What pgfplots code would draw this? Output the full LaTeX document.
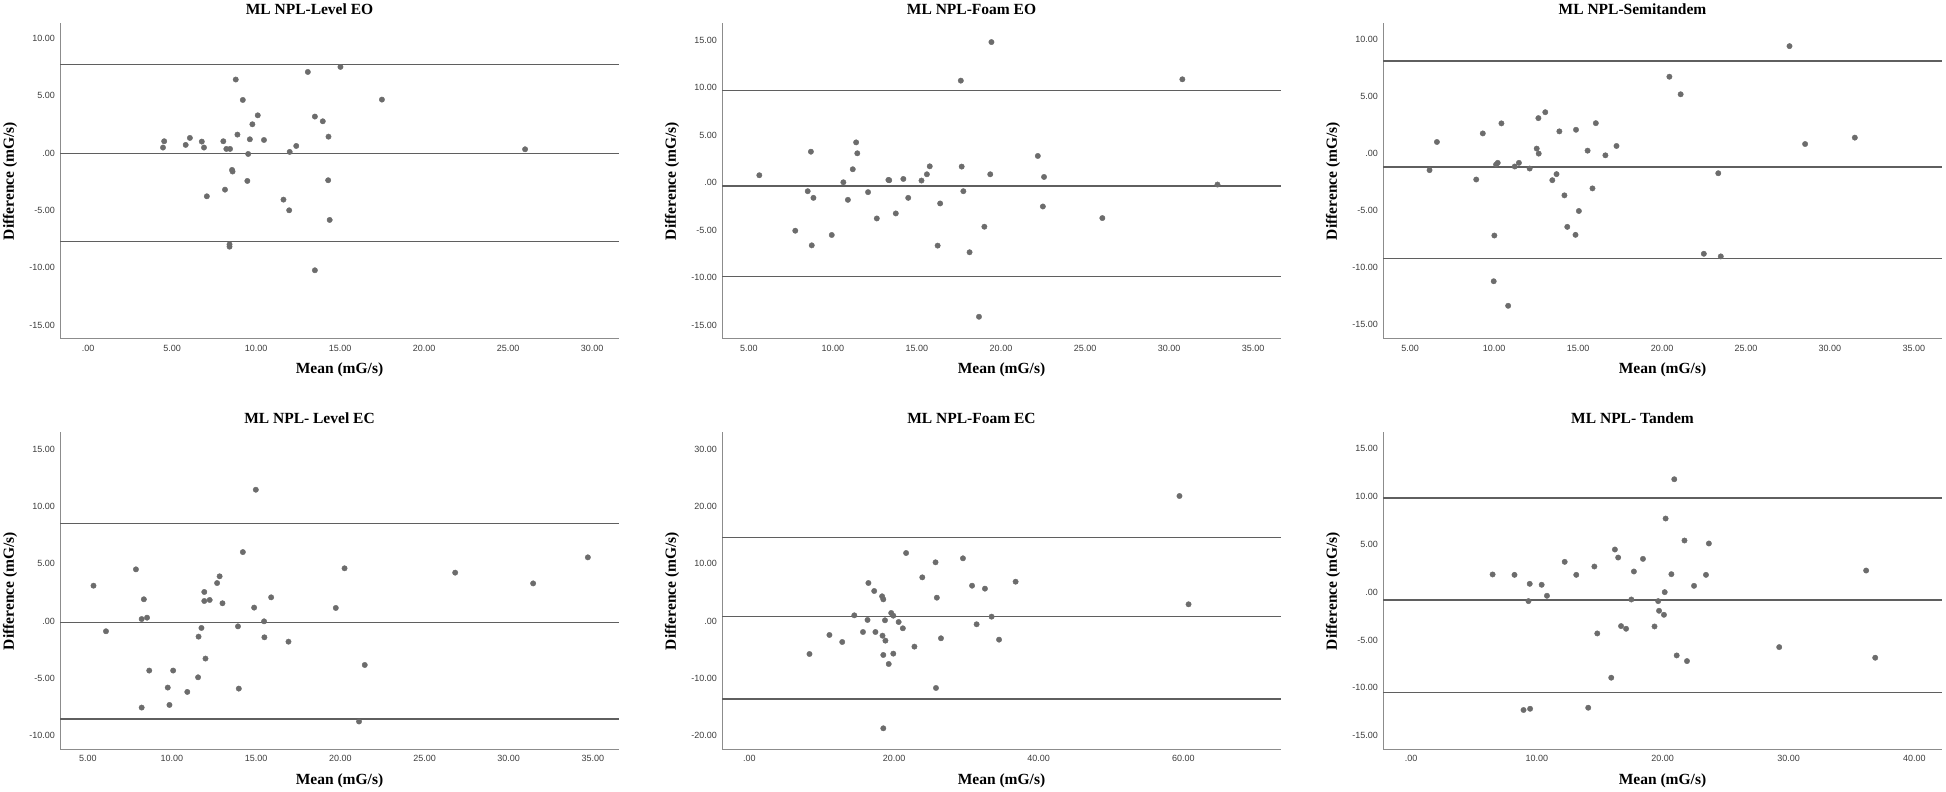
\documentclass[border=0pt]{standalone}
\usepackage{pgfplots}
\pgfplotsset{compat=1.18}
\usepackage{fontspec}
\setmainfont{Liberation Serif}
\newfontfamily\tickfont{Liberation Sans}
\definecolor{ptgray}{RGB}{108,108,108}
\definecolor{lngray}{RGB}{95,95,95}
\definecolor{axgray}{RGB}{140,140,140}
\definecolor{tkgray}{RGB}{60,60,60}
\newcommand\labfont{\fontsize{15.5}{18}\selectfont\bfseries}
\pgfplotsset{
  ba/.style={
    scale only axis, width=559pt, height=316pt,
    axis x line*=bottom, axis y line*=left,
    axis line style={-, draw=axgray, line width=1pt},
    major tick length=0pt, tick style={draw=none},
    ticklabel style={font=\tickfont\fontsize{9}{10}\selectfont, text=tkgray},
    yticklabel style={inner sep=0pt, anchor=east, xshift=-5pt},
    xticklabel style={inner sep=0pt, anchor=north, yshift=-6pt},
    title style={font=\labfont, at={(axis description cs:0.4463,1.0443)}, anchor=center, yshift=-6pt},
    xlabel style={font=\labfont, at={(axis description cs:0.5,-0.0981)}, anchor=center},
    ylabel style={font=\labfont, at={(axis description cs:-0.0894,0.5)}, anchor=center},
    xlabel={Mean (mG/s)}, ylabel={Difference (mG/s)},
    clip=false,
  },
  pts/.style={only marks, mark=*, mark size=2.7pt, mark options={fill=ptgray, draw=ptgray}},
  lns/.style={lngray, line width=1.4pt, no marks},
}
\begin{document}
\begin{tikzpicture}
\path[use as bounding box] (0,0) rectangle (1946pt,792pt);

% Panel 1
\begin{axis}[ba, at={(60pt,453pt)}, anchor=south west,
  title={ML NPL-Level EO},
  xmin=-1.67, xmax=31.6, ymin=-16.22, ymax=11.33,
  xtick={0,5,10,15,20,25,30}, xticklabels={.00,5.00,10.00,15.00,20.00,25.00,30.00},
  ytick={-15,-10,-5,0,5,10}, yticklabels={-15.00,-10.00,-5.00,.00,5.00,10.00}]
\addplot[lns] coordinates {(-1.67,7.72) (31.6,7.72)};
\addplot[lns] coordinates {(-1.67,-0.04) (31.6,-0.04)};
\addplot[lns] coordinates {(-1.67,-7.74) (31.6,-7.74)};
\addplot[pts] coordinates {(4.46,0.47) (4.53,1.02) (5.81,0.70) (6.06,1.31) (6.77,0.99) (6.90,0.47) (7.07,-3.78) (8.05,1.02) (8.15,-3.20) (8.23,0.35) (8.45,0.35) (8.42,-7.97) (8.42,-8.17) (8.57,-1.48) (8.60,-1.62) (8.79,6.40) (8.89,1.60) (9.21,4.62) (9.48,-2.44) (9.53,-0.09) (9.63,1.19) (9.78,2.50) (10.10,3.28) (10.47,1.13) (11.63,-4.07) (11.97,-5.00) (12.00,0.09) (12.39,0.61) (13.08,7.06) (13.50,3.17) (13.50,-10.23) (13.97,2.76) (14.29,-2.38) (14.31,1.42) (14.38,-5.84) (15.02,7.50) (17.49,4.65) (26.01,0.32)};
\end{axis}

% Panel 2
\begin{axis}[ba, at={(722pt,453pt)}, anchor=south west,
  title={ML NPL-Foam EO},
  xmin=3.40, xmax=36.66, ymin=-16.47, ymax=16.8,
  xtick={5,10,15,20,25,30,35}, xticklabels={5.00,10.00,15.00,20.00,25.00,30.00,35.00},
  ytick={-15,-10,-5,0,5,10,15}, yticklabels={-15.00,-10.00,-5.00,.00,5.00,10.00,15.00}]
\addplot[lns] coordinates {(3.40,9.72) (36.66,9.72)};
\addplot[lns] coordinates {(3.40,-0.38) (36.66,-0.38)};
\addplot[lns] coordinates {(3.40,-9.90) (36.66,-9.90)};
\addplot[pts] coordinates {(5.62,0.77) (7.76,-5.07) (8.50,-0.91) (8.69,3.25) (8.74,-6.61) (8.84,-1.61) (9.93,-5.52) (10.62,0.03) (10.89,-1.82) (11.18,1.40) (11.38,4.23) (11.45,3.08) (12.09,-1.01) (12.61,-3.78) (13.30,0.28) (13.35,0.24) (13.74,-3.25) (14.19,0.38) (14.48,-1.61) (15.27,0.21) (15.59,0.87) (15.76,1.71) (16.23,-6.64) (16.38,-2.20) (17.61,10.73) (17.66,1.68) (17.76,-0.91) (18.13,-7.34) (18.69,-14.13) (19.01,-4.65) (19.36,0.87) (19.43,14.79) (22.19,2.80) (22.49,-2.52) (22.56,0.59) (26.03,-3.74) (30.79,10.87) (32.88,-0.21)};
\end{axis}

% Panel 3
\begin{axis}[ba, at={(1383pt,453pt)}, anchor=south west,
  title={ML NPL-Semitandem},
  xmin=3.39, xmax=36.67, ymin=-16.25, ymax=11.45,
  xtick={5,10,15,20,25,30,35}, xticklabels={5.00,10.00,15.00,20.00,25.00,30.00,35.00},
  ytick={-15,-10,-5,0,5,10}, yticklabels={-15.00,-10.00,-5.00,.00,5.00,10.00}]
\addplot[lns] coordinates {(3.39,8.11) (36.67,8.11)};
\addplot[lns] coordinates {(3.39,-1.19) (36.67,-1.19)};
\addplot[lns] coordinates {(3.39,-9.19) (36.67,-9.19)};
\addplot[pts] coordinates {(6.16,-1.45) (6.60,1.02) (8.94,-2.27) (9.33,1.77) (10.02,-7.18) (9.98,-11.19) (10.12,-0.96) (10.22,-0.81) (10.44,2.65) (10.84,-13.34) (11.23,-1.13) (11.48,-0.81) (12.12,-1.31) (12.54,0.44) (12.64,3.11) (12.66,0.0) (13.05,3.63) (13.47,-2.33) (13.72,-1.80) (13.89,1.95) (14.19,-3.66) (14.36,-6.42) (14.85,-7.12) (14.88,2.09) (15.05,-5.03) (15.57,0.26) (15.86,-3.05) (16.06,2.67) (16.63,-0.15) (17.29,0.67) (20.44,6.74) (21.11,5.20) (22.49,-8.78) (23.35,-1.72) (23.50,-9.01) (27.59,9.42) (28.52,0.84) (31.48,1.40)};
\end{axis}

% Panel 4
\begin{axis}[ba, height=317pt, at={(60pt,42.5pt)}, anchor=south west,
  title={ML NPL- Level EC},
  xmin=3.35, xmax=36.55, ymin=-11.25, ymax=16.5,
  xtick={5,10,15,20,25,30,35}, xticklabels={5.00,10.00,15.00,20.00,25.00,30.00,35.00},
  ytick={-10,-5,0,5,10,15}, yticklabels={-10.00,-5.00,.00,5.00,10.00,15.00}]
\addplot[lns] coordinates {(3.35,8.54) (36.55,8.54)};
\addplot[lns] coordinates {(3.35,-0.15) (36.55,-0.15)};
\addplot[lns] coordinates {(3.35,-8.57) (36.55,-8.57)};
\addplot[pts] coordinates {(5.34,3.09) (6.08,-0.90) (7.86,4.52) (8.20,-7.58) (8.20,0.17) (8.33,1.90) (8.52,0.29) (8.65,-4.34) (9.75,-5.83) (9.85,-7.35) (10.07,-4.34) (10.91,-6.21) (11.55,-4.93) (11.58,-1.37) (11.75,-0.61) (11.92,2.54) (11.92,1.75) (11.99,-3.29) (12.24,1.84) (12.68,3.32) (12.83,3.91) (13.00,1.55) (13.92,-0.47) (13.97,-5.92) (14.21,6.03) (14.88,1.17) (14.98,11.49) (15.47,-0.03) (15.49,-1.43) (15.89,2.07) (16.92,-1.81) (19.73,1.14) (20.25,4.61) (21.11,-8.80) (21.45,-3.85) (26.82,4.23) (31.45,3.29) (34.70,5.57)};
\end{axis}

% Panel 5
\begin{axis}[ba, height=317pt, at={(722pt,42.5pt)}, anchor=south west,
  title={ML NPL-Foam EC},
  xmin=-3.78, xmax=73.5, ymin=-22.5, ymax=33.0,
  xtick={0,20,40,60}, xticklabels={.00,20.00,40.00,60.00},
  ytick={-20,-10,0,10,20,30}, yticklabels={-20.00,-10.00,.00,10.00,20.00,30.00}]
\addplot[lns] coordinates {(-3.78,14.64) (73.5,14.64)};
\addplot[lns] coordinates {(-3.78,0.76) (73.5,0.76)};
\addplot[lns] coordinates {(-3.78,-13.65) (73.5,-13.65)};
\addplot[pts] coordinates {(8.31,-5.78) (11.07,-2.45) (12.84,-3.68) (14.51,0.99) (15.71,-1.93) (16.34,0.18) (16.46,6.65) (17.26,5.25) (17.43,-1.93) (18.35,4.32) (18.41,-2.57) (18.52,3.79) (18.52,-5.95) (18.52,-18.79) (18.75,0.12) (18.81,-3.44) (19.27,-7.53) (19.61,1.40) (19.90,0.93) (19.90,-5.72) (20.64,-0.18) (21.22,-1.28) (21.67,11.90) (22.82,-4.49) (23.91,7.64) (25.74,10.27) (25.80,-11.73) (25.92,4.08) (26.49,-3.03) (29.53,10.97) (30.79,6.18) (31.42,-0.58) (32.57,5.66) (33.49,0.76) (34.52,-3.27) (36.81,6.88) (59.46,21.88) (60.72,2.92)};
\end{axis}

% Panel 6
\begin{axis}[ba, height=317pt, at={(1383pt,42.5pt)}, anchor=south west,
  title={ML NPL- Tandem},
  xmin=-2.23, xmax=42.2, ymin=-16.46, ymax=16.7,
  xtick={0,10,20,30,40}, xticklabels={.00,10.00,20.00,30.00,40.00},
  ytick={-15,-10,-5,0,5,10,15}, yticklabels={-15.00,-10.00,-5.00,.00,5.00,10.00,15.00}]
\addplot[lns] coordinates {(-2.23,9.83) (42.2,9.83)};
\addplot[lns] coordinates {(-2.23,-0.84) (42.2,-0.84)};
\addplot[lns] coordinates {(-2.23,-10.49) (42.2,-10.49)};
\addplot[pts] coordinates {(6.48,1.85) (8.22,1.81) (8.94,-12.33) (9.33,-0.94) (9.43,0.87) (9.46,-12.20) (10.38,0.77) (10.80,-0.38) (12.21,3.17) (13.13,1.81) (14.08,-12.09) (14.57,2.68) (14.80,-4.32) (15.91,-8.95) (16.20,4.46) (16.46,3.62) (16.69,-3.55) (17.09,-3.83) (17.51,-0.77) (17.71,2.16) (18.43,3.48) (19.35,-3.59) (19.64,-0.94) (19.71,-1.95) (20.10,-2.37) (20.16,0.0) (20.23,7.70) (20.69,1.88) (20.92,11.81) (21.11,-6.62) (21.73,5.40) (21.93,-7.21) (22.49,0.66) (23.44,1.81) (23.67,5.09) (29.26,-5.75) (36.17,2.26) (36.89,-6.86)};
\end{axis}
\end{tikzpicture}
\end{document}
